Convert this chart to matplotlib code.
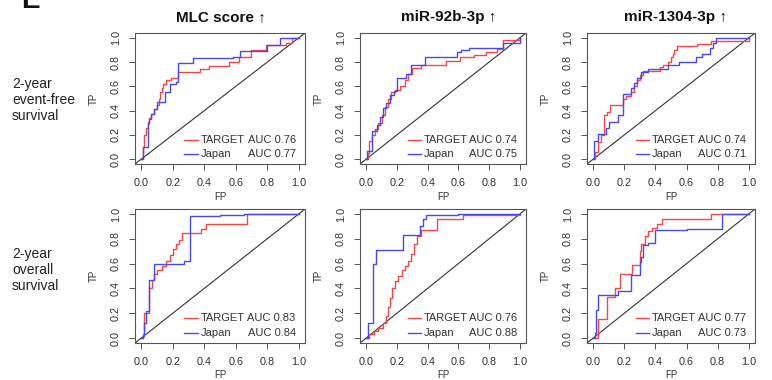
import matplotlib
matplotlib.use("Agg")
import matplotlib.pyplot as plt

plt.rcParams['font.family'] = ['Liberation Sans', 'DejaVu Sans']

# ---------------- data ----------------
titles = ["MLC score \u2191", "miR-92b-3p \u2191", "miR-1304-3p \u2191"]
row_labels = ["2-year\nevent-free\nsurvival", "2-year\noverall\nsurvival"]
series_names = ["TARGET", "Japan"]
auc_target = [[0.76, 0.74, 0.74], [0.83, 0.76, 0.77]]
auc_japan = [[0.77, 0.75, 0.71], [0.84, 0.88, 0.73]]
ticks = [0.0, 0.2, 0.4, 0.6, 0.8, 1.0]
tick_labels = ["0.0", "0.2", "0.4", "0.6", "0.8", "1.0"]

# Row 1: 2-year event-free survival
mlc_efs_target_fp = [0, 0.01, 0.02, 0.03, 0.04, 0.05, 0.06, 0.08, 0.10, 0.11, 0.12, 0.13, 0.14, 0.16, 0.19, 0.23, 0.37, 0.43, 0.56, 0.62, 0.70, 0.79, 0.92, 0.96, 1.0]
mlc_efs_target_tp = [0, 0.10, 0.20, 0.26, 0.31, 0.34, 0.37, 0.41, 0.45, 0.50, 0.55, 0.59, 0.62, 0.65, 0.67, 0.72, 0.74, 0.77, 0.80, 0.84, 0.90, 0.94, 0.96, 1.0, 1.0]
mlc_efs_japan_fp = [0, 0.01, 0.04, 0.05, 0.06, 0.08, 0.10, 0.15, 0.18, 0.22, 0.23, 0.33, 0.58, 0.63, 0.80, 0.88, 1.0]
mlc_efs_japan_tp = [0, 0.10, 0.30, 0.33, 0.37, 0.41, 0.47, 0.55, 0.62, 0.64, 0.79, 0.83, 0.84, 0.89, 0.94, 1.0, 1.0]

mir92_efs_target_fp = [0, 0.01, 0.02, 0.04, 0.06, 0.08, 0.10, 0.12, 0.14, 0.16, 0.19, 0.22, 0.25, 0.27, 0.30, 0.36, 0.52, 0.61, 0.70, 0.78, 0.85, 0.89, 1.0]
mir92_efs_target_tp = [0, 0.05, 0.15, 0.20, 0.25, 0.30, 0.36, 0.43, 0.50, 0.55, 0.57, 0.60, 0.65, 0.70, 0.75, 0.78, 0.81, 0.84, 0.86, 0.88, 0.91, 0.98, 1.0]
mir92_efs_japan_fp = [0, 0.005, 0.04, 0.07, 0.09, 0.11, 0.13, 0.155, 0.18, 0.20, 0.26, 0.29, 0.38, 0.59, 0.62, 0.67, 0.89, 1.0]
mir92_efs_japan_tp = [0, 0.07, 0.23, 0.28, 0.35, 0.42, 0.46, 0.53, 0.56, 0.67, 0.70, 0.78, 0.84, 0.88, 0.90, 0.92, 0.96, 1.0]

mir1304_efs_target_fp = [0, 0.01, 0.03, 0.05, 0.07, 0.09, 0.11, 0.19, 0.21, 0.24, 0.26, 0.28, 0.30, 0.32, 0.43, 0.45, 0.48, 0.50, 0.51, 0.52, 0.54, 0.67, 0.76, 1.0]
mir1304_efs_target_tp = [0, 0.06, 0.14, 0.20, 0.36, 0.39, 0.45, 0.50, 0.52, 0.55, 0.60, 0.65, 0.69, 0.73, 0.76, 0.78, 0.80, 0.84, 0.87, 0.90, 0.93, 0.95, 0.97, 1.0]
mir1304_efs_japan_fp = [0, 0.005, 0.03, 0.08, 0.10, 0.16, 0.19, 0.24, 0.26, 0.28, 0.31, 0.35, 0.48, 0.55, 0.66, 0.70, 0.75, 0.77, 0.79, 1.0]
mir1304_efs_japan_tp = [0, 0.15, 0.21, 0.26, 0.31, 0.36, 0.54, 0.59, 0.63, 0.67, 0.72, 0.74, 0.78, 0.80, 0.84, 0.87, 0.92, 0.96, 1.0, 1.0]

# Row 2: 2-year overall survival
mlc_os_target_fp = [0, 0.01, 0.02, 0.05, 0.07, 0.08, 0.10, 0.13, 0.16, 0.18, 0.20, 0.22, 0.24, 0.26, 0.38, 0.41, 0.67, 1.0]
mlc_os_target_tp = [0, 0.03, 0.20, 0.40, 0.47, 0.52, 0.55, 0.58, 0.62, 0.67, 0.72, 0.76, 0.79, 0.85, 0.88, 0.92, 1.0, 1.0]
mlc_os_japan_fp = [0, 0.01, 0.02, 0.03, 0.05, 0.08, 0.27, 0.31, 0.50, 0.65, 1.0]
mlc_os_japan_tp = [0, 0.02, 0.12, 0.22, 0.47, 0.60, 0.62, 0.98, 0.99, 1.0, 1.0]

mir92_os_target_fp = [0, 0.02, 0.05, 0.08, 0.11, 0.13, 0.145, 0.155, 0.17, 0.19, 0.21, 0.23, 0.25, 0.27, 0.29, 0.31, 0.33, 0.36, 0.46, 0.63, 1.0]
mir92_os_target_tp = [0, 0.03, 0.06, 0.08, 0.12, 0.18, 0.25, 0.32, 0.40, 0.46, 0.50, 0.55, 0.58, 0.62, 0.68, 0.76, 0.82, 0.87, 0.96, 0.99, 1.0]
mir92_os_japan_fp = [0, 0.01, 0.045, 0.065, 0.24, 0.35, 0.37, 0.39, 0.60, 1.0]
mir92_os_japan_tp = [0, 0.12, 0.60, 0.71, 0.83, 0.90, 0.96, 0.99, 1.0, 1.0]

mir1304_os_target_fp = [0, 0.03, 0.09, 0.14, 0.17, 0.25, 0.30, 0.31, 0.33, 0.35, 0.38, 0.41, 0.44, 0.76, 1.0]
mir1304_os_target_tp = [0, 0.15, 0.33, 0.40, 0.52, 0.59, 0.70, 0.76, 0.82, 0.86, 0.89, 0.92, 0.96, 1.0, 1.0]
mir1304_os_japan_fp = [0, 0.01, 0.02, 0.03, 0.16, 0.24, 0.30, 0.31, 0.32, 0.35, 0.40, 0.60, 0.83, 1.0]
mir1304_os_japan_tp = [0, 0.04, 0.23, 0.35, 0.38, 0.51, 0.61, 0.65, 0.75, 0.77, 0.87, 0.88, 1.0, 1.0]

curves = [
    [((mlc_efs_target_fp, mlc_efs_target_tp), (mlc_efs_japan_fp, mlc_efs_japan_tp)),
     ((mir92_efs_target_fp, mir92_efs_target_tp), (mir92_efs_japan_fp, mir92_efs_japan_tp)),
     ((mir1304_efs_target_fp, mir1304_efs_target_tp), (mir1304_efs_japan_fp, mir1304_efs_japan_tp))],
    [((mlc_os_target_fp, mlc_os_target_tp), (mlc_os_japan_fp, mlc_os_japan_tp)),
     ((mir92_os_target_fp, mir92_os_target_tp), (mir92_os_japan_fp, mir92_os_japan_tp)),
     ((mir1304_os_target_fp, mir1304_os_target_tp), (mir1304_os_japan_fp, mir1304_os_japan_tp))],
]

# ---------------- layout / style ----------------
W, H = 772, 380
col_lr = [(135, 305), (360, 526), (587, 755)]
row_tb = [(33, 164), (209, 343)]
title_x = [221, 449, 675]
row_label_y = [100, 270]
red = "#f04848"
blue = "#4848ee"
frame_col = "#555555"
text_col = "#333333"

fig = plt.figure(figsize=(W / 100, H / 100), dpi=100)
fig.patch.set_facecolor("white")

for r in range(2):
    t, b = row_tb[r]
    for c in range(3):
        l, rr = col_lr[c]
        w, h = rr - l, b - t
        ax = fig.add_axes([l / W, 1 - b / H, w / W, h / H])
        (tfp, ttp), (jfp, jtp) = curves[r][c]
        ax.step(tfp, ttp, where="post", color=red, lw=1.0, zorder=3)
        ax.step(jfp, jtp, where="post", color=blue, lw=1.0, zorder=3)
        ax.axline((0, 0), (1, 1), color="#333333", lw=0.8, zorder=2)
        ax.set_xlim(-0.04, 1.04)
        ax.set_ylim(-0.04, 1.04)
        ax.set_xticks(ticks)
        ax.set_xticklabels(tick_labels)
        ax.set_yticks(ticks)
        ax.set_yticklabels(tick_labels)
        for s in ax.spines.values():
            s.set_color(frame_col)
            s.set_linewidth(0.8)
        ax.tick_params(direction="out", length=4, width=0.7, color=frame_col,
                       labelsize=7.8, labelcolor=text_col, pad=6)
        for lab in ax.get_yticklabels():
            lab.set_rotation(90)
            lab.set_va("center")
            lab.set_ha("right")
        ax.set_xlabel("FP", fontsize=7, color=text_col)
        ax.set_ylabel("TP", fontsize=7, color=text_col)
        ax.xaxis.set_label_coords(0.5, -27.5 / h)
        ax.yaxis.set_label_coords(-36.0 / w, 0.5)

        # legend
        leg_rows = [0.185, 0.078]
        aucs = [auc_target[r][c], auc_japan[r][c]]
        for k, (name, col) in enumerate(zip(series_names, [red, blue])):
            yk = leg_rows[k]
            ax.plot([0.29, 0.37], [yk, yk], transform=ax.transAxes, color=col, lw=1.0)
            ax.text(0.385, yk, name, transform=ax.transAxes, fontsize=8,
                    va="center", ha="left", color=text_col)
            ax.text(0.945, yk, "AUC %.2f" % aucs[k], transform=ax.transAxes,
                    fontsize=8, va="center", ha="right", color=text_col)

for c in range(3):
    fig.text(title_x[c] / W, 1 - 17 / H, titles[c], fontsize=11, fontweight="bold",
             ha="center", va="center", color="#111111")

for r in range(2):
    fig.text(12 / W, 1 - row_label_y[r] / H, row_labels[r], fontsize=10,
             ha="left", va="center", linespacing=1.2, color="#222222")

fig.text(21 / W, 1 - 8.5 / H, "E", fontsize=20, fontweight="bold",
         ha="left", va="baseline", color="#111111")

fig.savefig("out.png", dpi=100, facecolor="white")
